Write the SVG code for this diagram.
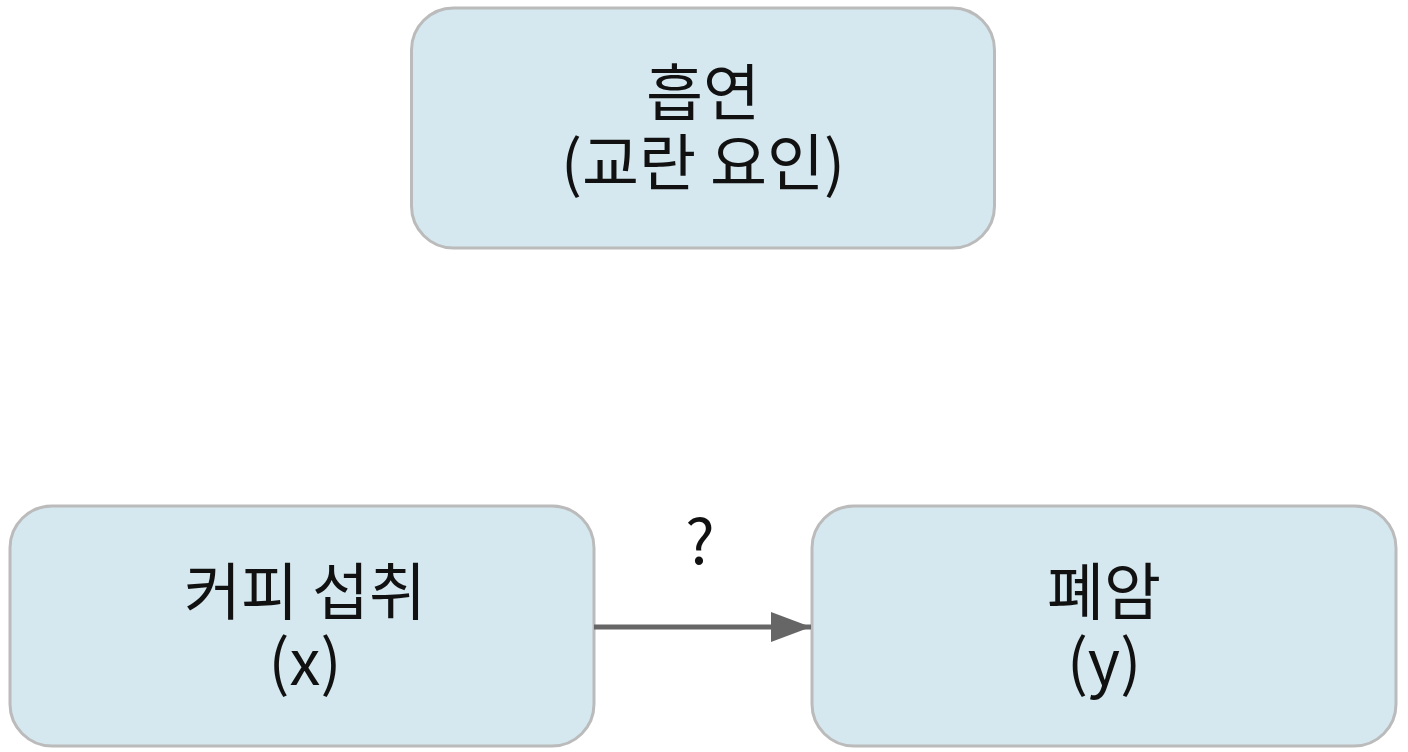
<svg xmlns="http://www.w3.org/2000/svg" width="1408" height="752" viewBox="0 0 1408 752">
<style>
.box{fill:#d5e8ef;stroke:#bbbbbb;stroke-width:3}
.t{font-family:"Noto Sans CJK KR","Noto Sans",sans-serif;font-size:62px;fill:#111;text-anchor:middle}
</style>
<defs>
<marker id="ah" markerUnits="userSpaceOnUse" markerWidth="40" markerHeight="30" refX="40" refY="15" orient="auto">
<path d="M0,0 L40,15 L0,30 Z" fill="#666666"/>
</marker>
</defs>
<rect width="1408" height="752" fill="#ffffff"/>
<g id="smoking">
<rect class="box" x="411.5" y="8" width="583" height="240" rx="42"/>
<text class="t" x="703" y="116">흡연<tspan x="703" dy="70">(교란 요인)</tspan></text>
</g>
<g id="coffee">
<rect class="box" x="10" y="506" width="584" height="240" rx="42"/>
<text class="t" x="305" y="615">커피 섭취<tspan x="305" dy="70">(x)</tspan></text>
</g>
<g id="cancer">
<rect class="box" x="812" y="506" width="584" height="240" rx="42"/>
<text class="t" x="1104" y="615">폐암<tspan x="1104" dy="70">(y)</tspan></text>
</g>
<g id="connectors">
<line x1="594" y1="627" x2="811" y2="627" stroke="#666666" stroke-width="5" marker-end="url(#ah)"/>
<text class="t" x="700" y="564">?</text>
</g>
</svg>
